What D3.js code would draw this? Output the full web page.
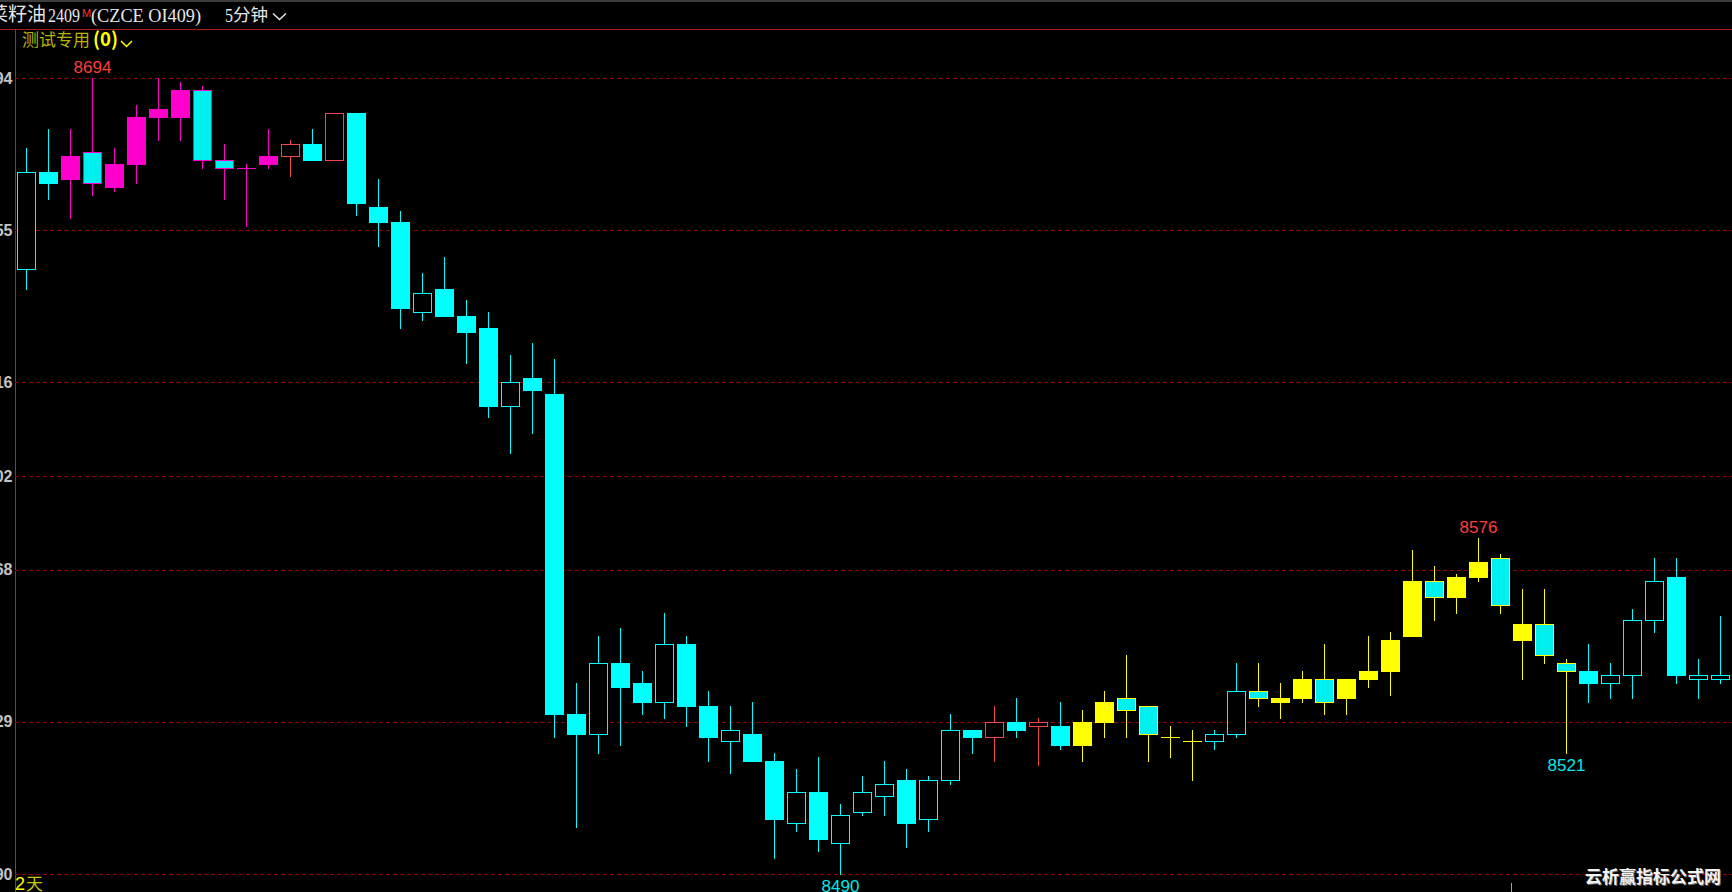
<!DOCTYPE html>
<html><head><meta charset="utf-8">
<script src="https://cdn.jsdelivr.net/npm/d3@7"></script>
<style>html,body{margin:0;padding:0;background:#000;overflow:hidden}</style>
</head><body>
<svg id="c" width="1732" height="892"></svg>
<script>
// ---- data (5-minute bars, 菜籽油2409) ----
const opens  = [8645,8670,8668,8675,8666,8672,8684,8684,8691,8673,8671,8672,8674,8677,8673,8685,8661,8657,8634,8640,
                8633,8630,8610,8617,8613,8531,8526,8544,8539,8534,8549,8533,8524,8526,8519,8503,8511,8498,8506,8510,
                8514,8504,8514,8527,8525,8529,8528,8528,8523,8529,8535,8533,8525,8524,8524,8526,8537,8534,8535,8540,
                8535,8540,8542,8551,8565,8561,8566,8571,8554,8554,8544,8542,8539,8541,8555,8566,8540,8540];
const highs  = [8676,8681,8681,8694,8676,8687,8694,8693,8692,8677,8672,8681,8678,8681,8685,8685,8668,8660,8644,8648,
                8637,8634,8623,8626,8622,8539,8551,8553,8542,8557,8551,8537,8533,8534,8521,8517,8520,8508,8515,8519,
                8517,8515,8531,8527,8533,8535,8530,8534,8532,8537,8546,8533,8528,8527,8527,8544,8544,8539,8542,8549,
                8540,8551,8552,8573,8569,8567,8576,8572,8563,8563,8545,8549,8544,8558,8571,8571,8545,8556];
const lows   = [8640,8663,8658,8664,8665,8667,8678,8678,8671,8663,8656,8671,8669,8673,8673,8659,8651,8630,8632,8633,
                8621,8607,8598,8603,8525,8502,8521,8523,8531,8530,8528,8519,8516,8519,8494,8501,8496,8490,8505,8505,
                8497,8501,8513,8521,8519,8525,8518,8522,8519,8525,8525,8519,8520,8514,8522,8525,8533,8530,8534,8531,
                8531,8538,8536,8551,8555,8557,8565,8557,8540,8544,8521,8534,8535,8535,8552,8539,8535,8539];
const closes = [8670,8667,8674,8667,8672,8684,8686,8691,8673,8671,8671,8674,8677,8673,8685,8662,8657,8635,8639,8633,
                8629,8610,8616,8614,8531,8526,8544,8538,8534,8549,8533,8525,8527,8519,8504,8511,8499,8505,8511,8513,
                8503,8514,8527,8525,8529,8527,8529,8523,8529,8534,8532,8526,8525,8524,8526,8537,8535,8535,8540,8534,
                8540,8542,8550,8565,8561,8566,8570,8559,8550,8546,8542,8539,8541,8555,8565,8541,8541,8541];
// indicator state of each bar (测试专用)
const states = ["U","D","M","MD","M","M","M","M","MD","MD","M","M","R","D","R","D","D","D","U","D",
                "D","D","U","D","D","D","U","D","D","U","D","D","U","D","D","U","D","U","U","U",
                "D","U","U","D","R","D","R","D","Y","Y","YD","YD","Y","Y","U","U","YD","Y","Y","YD",
                "Y","Y","Y","Y","YD","Y","Y","YD","Y","YD","YD","D","U","U","U","D","U","U"];
const tickValues = [8694, 8655, 8616, 8592, 8568, 8529, 8490];
const tickLabels = ["8694", "8655", "8616", "8602", "8568", "8529", "8490"];
const markHigh = [3, 66];
const markLow  = [37, 70];

// ---- drawing ----
const W = 1732, H = 892;
const svg = d3.select('#c');
svg.append('rect').attr('width', W).attr('height', H).attr('fill', '#000');

const x = d3.scaleBand().domain(d3.range(opens.length)).range([15.5, 15.5 + opens.length * 22]).padding(0);
const y = d3.scaleLinear().domain([8490, 8694]).range([874, 78]);
const cx = i => x(i) + x.bandwidth() / 2;
const ry = v => Math.round(y(v));

// header
svg.append('rect').attr('x', 0).attr('y', 0).attr('width', W).attr('height', 2).attr('fill', '#3c3c3c');
svg.append('line').attr('x1', 0).attr('x2', W).attr('y1', 29.5).attr('y2', 29.5)
  .attr('stroke', '#b01818').attr('stroke-width', 1);
svg.append('line').attr('x1', 15.5).attr('x2', 15.5).attr('y1', 29).attr('y2', H)
  .attr('stroke', '#c42020').attr('stroke-width', 1);

const cjk = '"Noto Sans CJK SC", sans-serif';
const serif = '"Liberation Serif", "DejaVu Serif", serif';
const hdr = svg.append('g').attr('fill', '#e6e6e6');
hdr.append('text').attr('x', -11).attr('y', 20.5).attr('font-family', cjk).attr('font-size', 19).text('菜籽油');
hdr.append('text').attr('x', 48).attr('y', 21.5).attr('font-family', serif).attr('font-size', 19)
  .attr('textLength', 32).attr('lengthAdjust', 'spacingAndGlyphs').text('2409');
hdr.append('text').attr('x', 82).attr('y', 16.5).attr('font-family', 'Liberation Sans, Arial, sans-serif')
  .attr('font-size', 11).attr('fill', '#ff3030').text('M');
hdr.append('text').attr('x', 91).attr('y', 21.5).attr('font-family', serif).attr('font-size', 19)
  .attr('textLength', 110).attr('lengthAdjust', 'spacingAndGlyphs').text('(CZCE OI409)');
hdr.append('text').attr('x', 225).attr('y', 21.5).attr('font-family', serif).attr('font-size', 19)
  .attr('textLength', 8).attr('lengthAdjust', 'spacingAndGlyphs').text('5');
hdr.append('text').attr('x', 233).attr('y', 20.5).attr('font-family', cjk).attr('font-size', 17.5).text('分钟');
svg.append('path').attr('d', 'M273,13.5 L279.5,19.5 L286,13.5').attr('fill', 'none')
  .attr('stroke', '#e6e6e6').attr('stroke-width', 1.5);

svg.append('text').attr('x', 22).attr('y', 45.5).attr('font-family', cjk).attr('font-size', 17)
  .attr('fill', '#b4b400').text('测试专用');
svg.append('text').attr('x', 93).attr('y', 45.5).attr('font-family', cjk).attr('font-size', 19)
  .attr('font-weight', 'bold')
  .attr('textLength', 25).attr('lengthAdjust', 'spacingAndGlyphs').attr('fill', '#ffff00').text('(0)');
svg.append('path').attr('d', 'M121,41 L126.5,46.5 L132,41').attr('fill', 'none')
  .attr('stroke', '#ffff00').attr('stroke-width', 1.5);

// grid + price labels
const yAxis = d3.axisLeft(y).tickValues(tickValues).tickFormat((d, i) => tickLabels[i])
  .tickSize(-(W - 15)).tickPadding(3);
const gA = svg.append('g').attr('transform', 'translate(15,0)').call(yAxis);
gA.select('.domain').remove();
gA.selectAll('.tick line').attr('stroke', '#960000').attr('stroke-dasharray', '4,3')
  .attr('shape-rendering', 'crispEdges');
gA.selectAll('.tick text').attr('fill', '#c4c4c4').attr('font-family', '"Liberation Sans", Arial, sans-serif')
  .attr('font-weight', 'bold').attr('font-size', 16).attr('x', -2.5);

// candles
const styleMap = {
  U:  { fill: '#000',    stroke: '#00ffff', wick: '#00ffff' },
  D:  { fill: '#00ffff', stroke: '#00ffff', wick: '#00ffff' },
  M:  { fill: '#ff00cc', stroke: '#ff00cc', wick: '#ff00cc' },
  MD: { fill: '#00f0f0', stroke: '#ff00cc', wick: '#ff00cc' },
  R:  { fill: '#000',    stroke: '#f04646', wick: '#f04646' },
  Y:  { fill: '#ffff00', stroke: '#ffff00', wick: '#ffff00' },
  YD: { fill: '#00f0f0', stroke: '#ffff00', wick: '#ffff00' }
};
const data = opens.map((o, i) => ({ i, o, h: highs[i], l: lows[i], c: closes[i], s: styleMap[states[i]] }));
const cg = svg.append('g').attr('shape-rendering', 'crispEdges')
  .selectAll('g.candle').data(data).join('g').attr('class', 'candle');
cg.append('line')
  .attr('x1', d => cx(d.i)).attr('x2', d => cx(d.i))
  .attr('y1', d => ry(d.h)).attr('y2', d => ry(d.l) + 1)
  .attr('stroke', d => d.s.wick).attr('stroke-width', 1);
cg.filter(d => d.o === d.c).append('line')
  .attr('x1', d => cx(d.i) - 9.5).attr('x2', d => cx(d.i) + 9.5)
  .attr('y1', d => ry(d.o) + 0.5).attr('y2', d => ry(d.o) + 0.5)
  .attr('stroke', d => d.s.wick).attr('stroke-width', 1);
cg.filter(d => d.o !== d.c).append('rect')
  .attr('x', d => cx(d.i) - 9).attr('width', 18)
  .attr('y', d => ry(Math.max(d.o, d.c)) + 0.5)
  .attr('height', d => ry(Math.min(d.o, d.c)) - ry(Math.max(d.o, d.c)))
  .attr('fill', d => d.s.fill).attr('stroke', d => d.s.stroke).attr('stroke-width', 1);

// high / low marks
const lab = svg.append('g').attr('font-family', '"Liberation Sans", Arial, sans-serif').attr('font-size', 17)
  .attr('text-anchor', 'middle');
lab.selectAll('text.hi').data(markHigh).join('text').attr('class', 'hi')
  .attr('x', i => cx(i)).attr('y', i => ry(highs[i]) - 5).attr('fill', '#ff3c3c').text(i => highs[i]);
lab.selectAll('text.lo').data(markLow).join('text').attr('class', 'lo')
  .attr('x', i => cx(i)).attr('y', i => ry(lows[i]) + 18).attr('fill', '#00e8e8').text(i => lows[i]);

// footer
svg.append('text').attr('x', 15).attr('y', 890).attr('font-family', '"Liberation Sans", Arial, sans-serif')
  .attr('font-size', 18).attr('fill', '#ffff00').text('2');
svg.append('text').attr('x', 26).attr('y', 890).attr('font-family', cjk).attr('font-size', 17)
  .attr('fill', '#c8c800').text('天');
svg.append('line').attr('x1', 1511.5).attr('x2', 1511.5).attr('y1', 883).attr('y2', H)
  .attr('stroke', '#a0a0a0').attr('stroke-width', 1);
svg.append('text').attr('x', 1586).attr('y', 883.5).attr('font-family', cjk).attr('font-weight', 'bold')
  .attr('font-size', 17).attr('fill', '#6a6a6a').text('云析赢指标公式网');
svg.append('text').attr('x', 1585).attr('y', 882.5).attr('font-family', cjk).attr('font-weight', 'bold')
  .attr('font-size', 17).attr('fill', '#f2f2f2').text('云析赢指标公式网');
</script>
</body></html>
